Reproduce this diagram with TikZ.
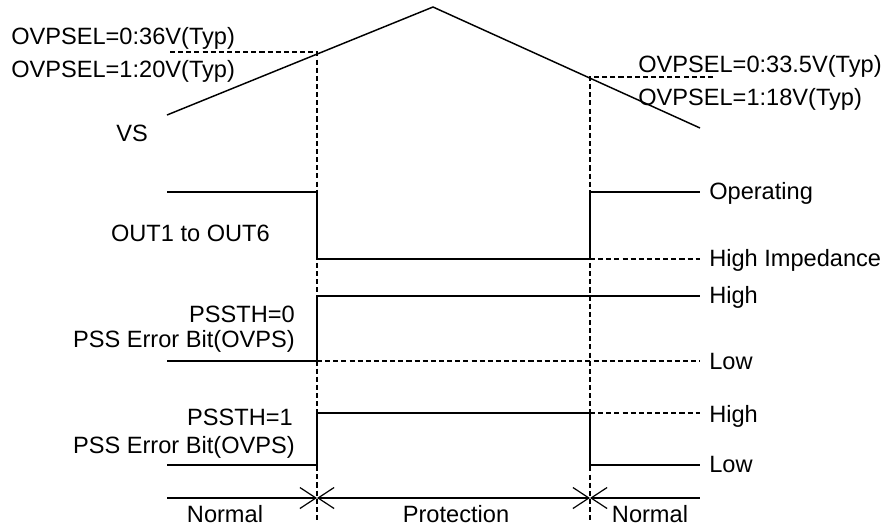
\documentclass[tikz,border=0pt]{standalone}
\usepackage{fontspec}
\setmainfont{Liberation Sans}
\usetikzlibrary{arrows.meta, positioning}
\definecolor{traceBlack}{HTML}{000000}
\def\tOn{317}
\def\tOff{590}
\def\xL{167}
\def\xR{700}

\begin{document}
\begin{tikzpicture}[x=0.75pt, y=-0.75pt,
    wave/.style={draw=traceBlack, line width=1.1pt},
    guide/.style={draw=traceBlack, line width=0.8pt, dash pattern=on 3.8pt off 2.3pt},
    lbl/.style={font=\fontsize{17.7}{20}\selectfont, inner sep=0pt, text=traceBlack},
    barb/.tip={Straight Barb[length=12pt, width=15.75pt]}
]
    \useasboundingbox (0,0) rectangle (882,526);

    % VS ramp
    \coordinate (vsStart) at (\xL,115);
    \coordinate (vsPeak) at (433,7);
    \coordinate (vsEnd) at (\xR,128);
    \coordinate (ovpOn) at (\tOn,52);
    \coordinate (ovpOff) at (\tOff,77);
    \draw[wave] (vsStart) -- (vsPeak) -- (vsEnd);
    \draw[guide] (170,52) -- (ovpOn) -- (\tOn,522);
    \draw[guide] (713,77) -- (ovpOff) -- (\tOff,522);
    \node[lbl, anchor=base west] (ovpOnA) at (11,44) {OVPSEL=0:36V(Typ)};
    \node[lbl, anchor=base west] (ovpOnB) at (11,77) {OVPSEL=1:20V(Typ)};
    \node[lbl, anchor=base west] (ovpOffA) at (638,72) {OVPSEL=0:33.5V(Typ)};
    \node[lbl, anchor=base west] (ovpOffB) at (638,105) {OVPSEL=1:18V(Typ)};
    \node[lbl, anchor=base] (vs) at (132,141) {VS};

    % OUT1 to OUT6
    \draw[wave] (\xL,192) -- (\tOn,192) -- (\tOn,259) -- (\tOff,259);
    \draw[guide] (\tOff,259) -- (\xR,259);
    \draw[wave] (\tOff,259) -- (\tOff,192) -- (\xR,192);
    \node[lbl, anchor=base east] (out) at (270,241) {OUT1 to OUT6};
    \node[lbl, anchor=base west] (outOp) at (709,199) {Operating};
    \node[lbl, anchor=base west] (outHz) at (709,266) {High Impedance};

    % PSSTH=0
    \draw[wave] (\xL,361) -- (\tOn,361) -- (\tOn,296) -- (\xR,296);
    \draw[guide] (\tOn,361) -- (\xR,361);
    \node[lbl, anchor=base east] (pssA) at (295,322) {PSSTH=0};
    \node[lbl, anchor=base east] (pssAbit) at (295,347) {PSS Error Bit(OVPS)};
    \node[lbl, anchor=base west] (pssAhi) at (709,303) {High};
    \node[lbl, anchor=base west] (pssAlo) at (709,369) {Low};

    % PSSTH=1
    \draw[wave] (\xL,465) -- (\tOn,465) -- (\tOn,413) -- (\tOff,413) -- (\tOff,465) -- (\xR,465);
    \draw[guide] (\tOff,413) -- (\xR,413);
    \node[lbl, anchor=base east] (pssB) at (293,425) {PSSTH=1};
    \node[lbl, anchor=base east] (pssBbit) at (295,453) {PSS Error Bit(OVPS)};
    \node[lbl, anchor=base west] (pssBhi) at (709,422) {High};
    \node[lbl, anchor=base west] (pssBlo) at (709,472) {Low};

    % phases
    \coordinate (phL) at (\xL,498);
    \coordinate (phOn) at (\tOn,498);
    \coordinate (phOff) at (\tOff,498);
    \coordinate (phR) at (\xR,498);
    \draw[wave, line width=0.9pt, -barb] (phL) -- (phOn);
    \draw[wave, line width=0.9pt, barb-barb] (phOn) -- (phOff);
    \draw[wave, line width=0.9pt, barb-] (phOff) -- (phR);
    \node[lbl, anchor=base] (normA) at (225,522) {Normal};
    \node[lbl, anchor=base] (prot) at (456,522) {Protection};
    \node[lbl, anchor=base] (normB) at (650,522) {Normal};
\end{tikzpicture}
\end{document}
